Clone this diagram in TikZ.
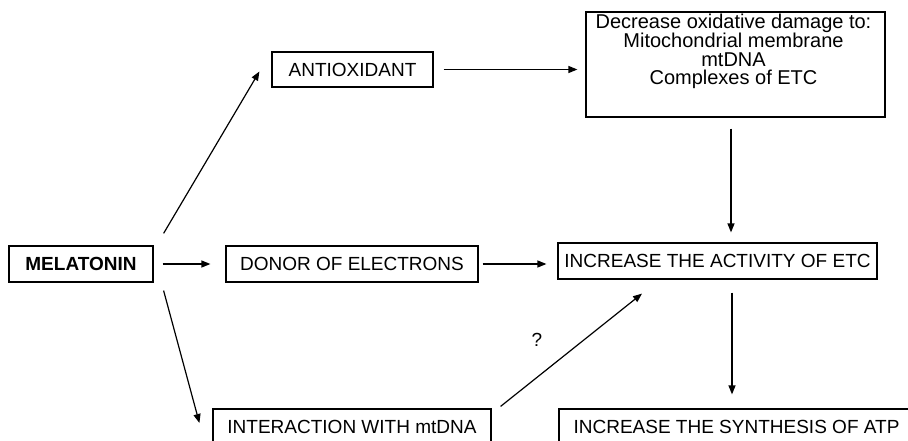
\documentclass[tikz,border=0pt]{standalone}
\usepackage{fontspec}
\setmainfont{Liberation Sans}
\usetikzlibrary{positioning,calc,arrows.meta}

\tikzset{
  box/.style={draw, line width=1.2pt, inner sep=0pt, minimum height=36pt},
  arr/.style={-{Triangle[length=9pt,width=7pt]}, line width=1.2pt},
}

\begin{document}
\begin{tikzpicture}[x=1pt,y=1pt,font=\fontsize{19}{17.3}\selectfont]
\useasboundingbox (0,0) rectangle (908,440);
%% Left column
\node[box, minimum width=144pt, font=\fontsize{19}{17.3}\selectfont\bfseries] (mel) at (81,176) {MELATONIN};
%% Middle column
\node[box, minimum width=161pt, minimum height=35pt] (anti) at (352.5,370.5) {ANTIOXIDANT};
\node[box, minimum width=252pt] (donor) at (352,176) {DONOR OF ELECTRONS};
\node[box, minimum width=278pt] (inter) at (352,13) {INTERACTION WITH mtDNA};
%% Right column
\node[box, minimum width=299pt, minimum height=105pt] (dmg) at (735.5,375.5) {};
\node[anchor=north, align=center, inner sep=0pt, font=\fontsize{20}{18.6}\selectfont] (dmgtxt) at ([xshift=-2pt,yshift=-2pt]dmg.north)
  {Decrease oxidative damage to:\\Mitochondrial membrane\\mtDNA\\Complexes of ETC};
\node[box, minimum width=319pt] (etc) at (717.5,179) {INCREASE THE ACTIVITY OF ETC};
\node[box, minimum width=355pt] (atp) at (736.5,13) {INCREASE THE SYNTHESIS OF ATP};
%% Arrows from melatonin
\draw[arr] ([xshift=10pt,yshift=12pt]mel.north east) -- ([xshift=-12pt,yshift=-2pt]anti.west);
\draw[arr, shorten <=9pt, shorten >=15pt] (mel) -- (donor);
\draw[arr] ([xshift=10pt,yshift=-8pt]mel.south east) -- ([xshift=-13pt,yshift=4pt]inter.west);
%% Arrows to the right column
\draw[arr, shorten <=10pt, shorten >=8pt] (anti.east) -- (anti.east -| dmg.west);
\draw[arr, shorten <=4pt, shorten >=11pt] (donor.east) -- (donor.east -| etc.west);
\draw[arr, shorten <=11pt, shorten >=10pt] ([xshift=-4.5pt]dmg.south) -- ([xshift=-4.5pt]dmg.south |- etc.north);
\draw[arr, shorten <=13pt, shorten >=14pt] ([xshift=14.5pt]etc.south) -- ([xshift=14.5pt]etc.south |- atp.north);
\draw[arr] ([xshift=9pt,yshift=2pt]inter.north east) -- ([xshift=-75.5pt,yshift=-14pt]etc.south);
\node (qmark) at (537,100) {?};
\end{tikzpicture}
\end{document}
